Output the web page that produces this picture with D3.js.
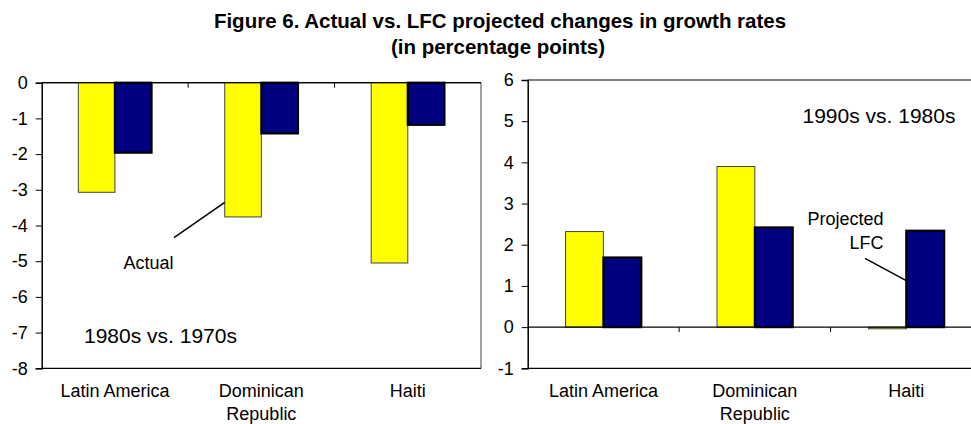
<!DOCTYPE html>
<html>
<head>
<meta charset="utf-8">
<script src="https://cdn.jsdelivr.net/npm/d3@7"></script>
<style>
  html, body { margin: 0; padding: 0; background: #fff; }
  svg { display: block; }
  text { font-family: Arial, "Liberation Sans", Helvetica, sans-serif; fill: #000; }
</style>
</head>
<body>
<svg id="chart" width="971" height="424"></svg>
<script>
// ---------- data ----------
const categories = ["Latin America", "Dominican\nRepublic", "Haiti"];
const seriesNames = ["Actual", "Projected LFC"];
const actual8070 = [-3.07, -3.76, -5.05];
const lfc8070    = [-1.96, -1.42, -1.18];
const actual9080 = [2.32, 3.90, -0.04];
const lfc9080    = [1.69, 2.42, 2.34];
const leftTicks  = [0, -1, -2, -3, -4, -5, -6, -7, -8];
const rightTicks = [6, 5, 4, 3, 2, 1, 0, -1];
const titleLines = ["Figure 6. Actual vs. LFC projected changes in growth rates", "(in percentage points)"];

// ---------- drawing ----------
const svg = d3.select("#chart");
const colors = { "Actual": "#FFFF00", "Projected LFC": "#000080" };
const strokes = { "Actual": { c: "#444", w: 1 }, "Projected LFC": { c: "#000", w: 2.2 } };

svg.append("text")
  .attr("x", 500).attr("y", 28)
  .attr("text-anchor", "middle")
  .style("font-weight", "bold").style("font-size", "20.5px")
  .text(titleLines[0]);
svg.append("text")
  .attr("x", 498).attr("y", 54)
  .attr("text-anchor", "middle")
  .style("font-weight", "bold").style("font-size", "20.5px")
  .text(titleLines[1]);

function panel(opts) {
  const g = svg.append("g");
  const x0 = d3.scaleBand().domain(categories).range([opts.x0, opts.x1]).padding(0);
  const x1 = d3.scaleBand().domain(seriesNames)
    .range([x0.bandwidth() / 4, x0.bandwidth() * 3 / 4]).padding(0);
  const y = d3.scaleLinear().domain(opts.domain).range([opts.yBottom, opts.yTop]);

  // plot area border (right side gray, others dark)
  g.append("line").attr("x1", opts.x1).attr("x2", opts.x1)
    .attr("y1", y(opts.domain[1])).attr("y2", y(opts.domain[0]))
    .attr("stroke", "#808080").attr("stroke-width", 1.5);
  g.append("line").attr("x1", opts.x0).attr("x2", opts.x1)
    .attr("y1", y(opts.domain[1])).attr("y2", y(opts.domain[1]))
    .attr("stroke", "#000").attr("stroke-width", 1.2);
  g.append("line").attr("x1", opts.x0).attr("x2", opts.x1)
    .attr("y1", y(opts.domain[0])).attr("y2", y(opts.domain[0]))
    .attr("stroke", "#000").attr("stroke-width", 1.2);

  // bars
  const rows = categories.map((c, i) => ({ cat: c, vals: [
    { s: seriesNames[0], v: opts.a[i] }, { s: seriesNames[1], v: opts.b[i] } ] }));
  const grp = g.selectAll("g.cat").data(rows).join("g")
    .attr("transform", d => `translate(${x0(d.cat)},0)`);
  grp.selectAll("rect").data(d => d.vals).join("rect")
    .attr("x", d => x1(d.s))
    .attr("width", x1.bandwidth())
    .attr("y", d => y(Math.max(0, d.v)))
    .attr("height", d => Math.abs(y(d.v) - y(0)))
    .attr("fill", d => colors[d.s])
    .attr("stroke", d => strokes[d.s].c)
    .attr("stroke-width", d => strokes[d.s].w);

  // zero (category) axis line with ticks between categories
  g.append("line").attr("x1", opts.x0).attr("x2", opts.x1)
    .attr("y1", y(0)).attr("y2", y(0))
    .attr("stroke", "#000").attr("stroke-width", 1.2);
  g.selectAll("line.ctick").data(categories.slice(1)).join("line")
    .attr("class", "ctick")
    .attr("x1", d => x0(d)).attr("x2", d => x0(d))
    .attr("y1", y(0)).attr("y2", y(0) + 5)
    .attr("stroke", "#000").attr("stroke-width", 1);

  // value axis
  const ax = g.append("g").attr("transform", `translate(${opts.x0},0)`)
    .call(d3.axisLeft(y).tickValues(opts.ticks).tickFormat(d => String(d))
      .tickSize(6).tickPadding(8));
  ax.select(".domain").attr("stroke", "#000").attr("stroke-width", 1.5);
  ax.selectAll(".tick line").attr("stroke", "#000").attr("stroke-width", 1);
  ax.selectAll(".tick text")
    .style("font-family", 'Arial, "Liberation Sans", sans-serif')
    .style("font-size", "18px").attr("fill", "#000");

  // category labels
  const lab = g.selectAll("text.clab").data(categories).join("text")
    .attr("class", "clab")
    .attr("text-anchor", "middle")
    .style("font-size", "18px")
    .attr("transform", d => `translate(${x0(d) + x0.bandwidth() / 2},397)`);
  lab.selectAll("tspan").data(d => d.split("\n")).join("tspan")
    .attr("x", 0).attr("dy", (d, i) => i === 0 ? 0 : 22.5)
    .text(d => d);
  return { x0, x1, y };
}

const L = panel({ x0: 41.7, x1: 481, yTop: 82.7, yBottom: 368.3, domain: [-8, 0],
  ticks: leftTicks, a: actual8070, b: lfc8070 });
const R = panel({ x0: 527.7, x1: 982, yTop: 80, yBottom: 368.3, domain: [-1, 6],
  ticks: rightTicks, a: actual9080, b: lfc9080 });

// annotations
svg.append("text").attr("x", 84).attr("y", 343.3).style("font-size", "21px").text("1980s vs. 1970s");
svg.append("text").attr("x", 802.5).attr("y", 123.3).style("font-size", "21px").text("1990s vs. 1980s");

// "Actual" callout, pointing to Dominican Republic actual bar (left)
{
  const cat = categories[1];
  const bx = L.x0(cat) + L.x1(seriesNames[0]);
  const by = L.y(-3.35);
  svg.append("line").attr("x1", 174).attr("y1", 237.7).attr("x2", bx).attr("y2", by)
    .attr("stroke", "#000").attr("stroke-width", 1.5);
  svg.append("text").attr("x", 123.5).attr("y", 269).style("font-size", "18px").text("Actual");
}
// "Projected LFC" callout pointing to Haiti LFC bar (right)
{
  const cat = categories[2];
  const bx = R.x0(cat) + R.x1(seriesNames[1]);
  const by = R.y(1.13);
  svg.append("line").attr("x1", 865).attr("y1", 258.3).attr("x2", bx).attr("y2", by)
    .attr("stroke", "#000").attr("stroke-width", 1.5);
  svg.append("text").attr("x", 883.5).attr("y", 225).attr("text-anchor", "end")
    .style("font-size", "18px").text("Projected");
  svg.append("text").attr("x", 883.5).attr("y", 249.3).attr("text-anchor", "end")
    .style("font-size", "18px").text("LFC");
}
</script>
</body>
</html>
